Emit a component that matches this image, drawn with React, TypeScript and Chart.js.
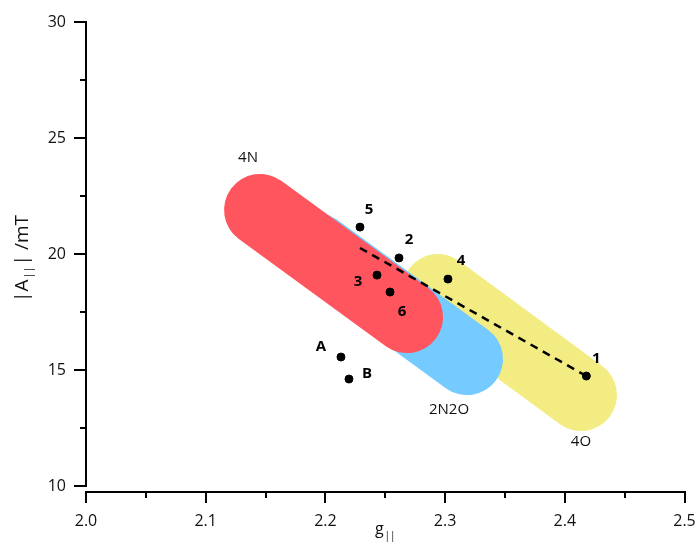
import React, { useEffect, useRef } from "react";
import { Chart, registerables } from "chart.js";

Chart.register(...registerables);

// ---- data ----
const gValues = [2.418, 2.2615, 2.2431, 2.3024, 2.2289, 2.254, 2.213, 2.2197];
const aValues = [14.74, 19.83, 19.09, 18.92, 21.16, 18.36, 15.56, 14.61];
const pointLabels = ["1", "2", "3", "4", "5", "6", "A", "B"];

const bandNames = ["4N", "2N2O", "4O"];
const bandG = [
  [2.1454, 2.2682],
  [2.1921, 2.3183],
  [2.2941, 2.4135],
];
const bandA = [
  [21.9, 17.28],
  [20.22, 15.47],
  [18.45, 13.92],
];

const fitG = [2.2289, 2.418];
const fitA = [20.26, 14.74];

const xMajorTicks = [2.0, 2.1, 2.2, 2.3, 2.4, 2.5];
const xMinorTicks = [2.05, 2.15, 2.25, 2.35, 2.45];
const yMajorTicks = [10, 15, 20, 25, 30];
const yMinorTicks = [12.5, 17.5, 22.5, 27.5];

// ---- styling (not data) ----
const bandColors = ["rgb(255,85,94)", "rgb(117,202,255)", "rgb(243,236,131)"];
const bandOrder = [2, 3, 4];
const pointLabelOffsets = [
  [10, -17],
  [10, -18],
  [-19, 7],
  [13, -18],
  [9, -17],
  [12, 20],
  [-20, -10],
  [18, -5],
];
// band label: [which end (0 start,1 end), dx, dy]
const bandLabelOffsets = [
  [0, -12, -52],
  [1, -18, 51],
  [1, 0, 47],
];
const FONT = "'Open Sans', 'Liberation Sans', sans-serif";

const overlayPlugin = {
  id: "overlay",
  afterDraw(chart: any) {
    const ctx = chart.ctx as CanvasRenderingContext2D;
    const xs = chart.scales.x;
    const ys = chart.scales.y;
    const area = chart.chartArea;
    const axisY = Math.round(area.bottom) + 6;
    const axisX = Math.round(area.left);
    ctx.save();
    ctx.strokeStyle = "#000";
    ctx.lineWidth = 2;
    ctx.lineCap = "butt";
    // y axis
    ctx.beginPath();
    ctx.moveTo(axisX, ys.getPixelForValue(30) - 1);
    ctx.lineTo(axisX, ys.getPixelForValue(10) + 1);
    ctx.stroke();
    yMajorTicks.forEach((v) => {
      const p = Math.round(ys.getPixelForValue(v));
      ctx.beginPath();
      ctx.moveTo(axisX - 12, p);
      ctx.lineTo(axisX + 1, p);
      ctx.stroke();
    });
    yMinorTicks.forEach((v) => {
      const p = Math.round(ys.getPixelForValue(v));
      ctx.beginPath();
      ctx.moveTo(axisX - 6, p);
      ctx.lineTo(axisX, p);
      ctx.stroke();
    });
    // x axis
    ctx.beginPath();
    ctx.moveTo(xs.getPixelForValue(2.0) - 1, axisY);
    ctx.lineTo(xs.getPixelForValue(2.5) + 1, axisY);
    ctx.stroke();
    xMajorTicks.forEach((v) => {
      const p = Math.round(xs.getPixelForValue(v));
      ctx.beginPath();
      ctx.moveTo(p, axisY - 1);
      ctx.lineTo(p, axisY + 11);
      ctx.stroke();
    });
    xMinorTicks.forEach((v) => {
      const p = Math.round(xs.getPixelForValue(v));
      ctx.beginPath();
      ctx.moveTo(p, axisY);
      ctx.lineTo(p, axisY + 6);
      ctx.stroke();
    });

    // tick labels
    ctx.fillStyle = "#111";
    ctx.font = `16px ${FONT}`;
    ctx.textAlign = "right";
    ctx.textBaseline = "middle";
    yMajorTicks.forEach((v) => {
      ctx.fillText(String(v), axisX - 20, ys.getPixelForValue(v) + 0.5);
    });
    ctx.textAlign = "center";
    xMajorTicks.forEach((v) => {
      ctx.fillText(v.toFixed(1), xs.getPixelForValue(v), axisY + 29);
    });

    // x title: g with subscript ||
    ctx.textBaseline = "alphabetic";
    ctx.textAlign = "left";
    ctx.font = `16px ${FONT}`;
    const gW = ctx.measureText("g").width;
    ctx.font = `10px ${FONT}`;
    const subW = ctx.measureText("||").width;
    const cx = (area.left + area.right) / 2;
    const startX = cx - (gW + subW + 1) / 2;
    ctx.font = `16px ${FONT}`;
    ctx.fillText("g", startX, 534);
    ctx.font = `10px ${FONT}`;
    ctx.fillText("||", startX + gW + 1, 539);

    // y title: |A(sub ||)| /mT rotated
    ctx.save();
    ctx.translate(28, 258);
    ctx.rotate(-Math.PI / 2);
    const big = `19px ${FONT}`;
    const small = `11px ${FONT}`;
    const parts: [string, string, number][] = [
      ["|A", big, 0],
      ["||", small, 4],
      ["| /mT", big, 0],
    ];
    let total = 0;
    parts.forEach(([t, f]) => {
      ctx.font = f;
      total += ctx.measureText(t).width + 1;
    });
    let px = -total / 2;
    parts.forEach(([t, f, dy]) => {
      ctx.font = f;
      ctx.fillText(t, px, dy);
      px += ctx.measureText(t).width + 1;
    });
    ctx.restore();

    // point labels
    ctx.fillStyle = "#000";
    ctx.font = `bold 15px ${FONT}`;
    ctx.textAlign = "center";
    ctx.textBaseline = "middle";
    pointLabels.forEach((lab, i) => {
      const x = xs.getPixelForValue(gValues[i]) + pointLabelOffsets[i][0];
      const y = ys.getPixelForValue(aValues[i]) + pointLabelOffsets[i][1];
      ctx.fillText(lab, x, y);
    });

    // band labels
    ctx.fillStyle = "#111";
    ctx.font = `15px ${FONT}`;
    bandNames.forEach((name, i) => {
      const [end, dx, dy] = bandLabelOffsets[i];
      const x = xs.getPixelForValue(bandG[i][end]) + dx;
      const y = ys.getPixelForValue(bandA[i][end]) + dy;
      ctx.fillText(name, x, y);
    });
    ctx.restore();
  },
};

export default function App() {
  const ref = useRef<HTMLCanvasElement | null>(null);
  useEffect(() => {
    if (!ref.current) return;
    const bandDatasets = bandNames.map((name, i) => ({
      type: "line" as const,
      label: name,
      data: bandG[i].map((g, j) => ({ x: g, y: bandA[i][j] })),
      borderColor: bandColors[i],
      backgroundColor: bandColors[i],
      borderWidth: 72,
      borderCapStyle: "round" as const,
      pointRadius: 0,
      showLine: true,
      fill: false,
      order: bandOrder[i],
      clip: false as any,
    }));
    const chart = new Chart(ref.current, {
      type: "scatter",
      data: {
        datasets: [
          {
            label: "complexes",
            data: gValues.map((g, i) => ({ x: g, y: aValues[i] })),
            backgroundColor: "#000",
            borderColor: "#000",
            pointRadius: 4,
            pointHoverRadius: 4,
            order: 0,
            clip: false as any,
          },
          {
            type: "line",
            label: "fit",
            data: fitG.map((g, i) => ({ x: g, y: fitA[i] })),
            borderColor: "#000",
            borderWidth: 2.5,
            borderDash: [8, 6],
            pointRadius: 0,
            showLine: true,
            fill: false,
            order: 1,
            clip: false as any,
          } as any,
          ...bandDatasets,
        ],
      },
      options: {
        animation: false,
        responsive: false,
        maintainAspectRatio: false,
        layout: { padding: { left: 86, right: 12.5, top: 22, bottom: 58 } },
        plugins: {
          legend: { display: false },
          tooltip: { enabled: false },
        },
        scales: {
          x: { type: "linear", min: 2.0, max: 2.5, display: false },
          y: { type: "linear", min: 10, max: 30, display: false },
        },
      },
      plugins: [overlayPlugin],
    });
    return () => chart.destroy();
  }, []);
  return (
    <div style={{ position: "fixed", left: 0, top: 0, width: 697, height: 544, background: "#fff" }}>
      <canvas ref={ref} width={697} height={544} style={{ display: "block", width: 697, height: 544 }} />
    </div>
  );
}
